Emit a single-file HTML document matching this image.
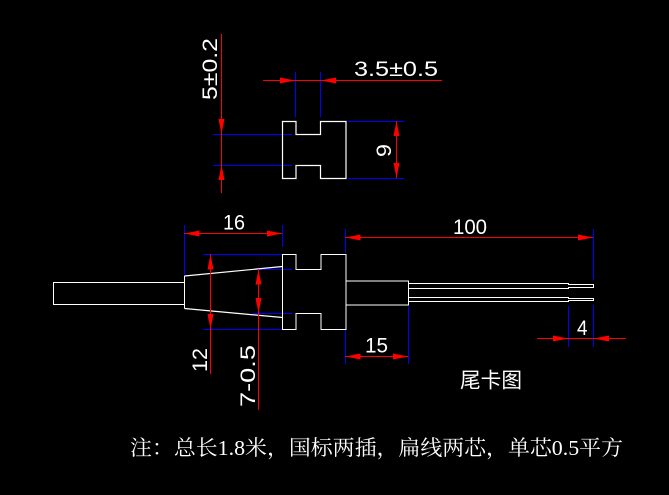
<!DOCTYPE html>
<html><head><meta charset="utf-8"><style>
html,body{margin:0;padding:0;background:#000;}
svg{display:block;}
.t{font-family:"Liberation Sans",sans-serif;font-size:21px;fill:#fff;}
</style></head><body>
<svg width="669" height="495" viewBox="0 0 669 495" xmlns="http://www.w3.org/2000/svg">
<rect width="669" height="495" fill="#000"/>

<!-- ===== TOP VIEW ===== -->
<g fill="none" stroke="#0000ff" stroke-width="1" shape-rendering="crispEdges">
  <line x1="213" y1="134.5" x2="292" y2="134.5"/>
  <line x1="213" y1="165.5" x2="292" y2="165.5"/>
  <line x1="295.5" y1="72" x2="295.5" y2="117"/>
  <line x1="320.5" y1="72" x2="320.5" y2="117"/>
  <line x1="348" y1="121.5" x2="404" y2="121.5"/>
  <line x1="348" y1="178.5" x2="404" y2="178.5"/>
</g>
<polygon points="282.5,121.5 296,121.5 296,134.5 320.5,134.5 320.5,121.5 346,121.5 346,178.5 320.5,178.5 320.5,165.5 296,165.5 296,178.5 282.5,178.5" fill="none" stroke="#fff" stroke-width="1.2"/>
<g stroke="#f00" stroke-width="1" fill="none" shape-rendering="crispEdges">
  <line x1="221.5" y1="34" x2="221.5" y2="193"/>
  <line x1="263" y1="80.5" x2="442" y2="80.5"/>
  <line x1="396.5" y1="121" x2="396.5" y2="178"/>
</g>
<g fill="#f00">
  <polygon points="221.5,134 218.5,119 224.5,119"/>
  <polygon points="221.5,165 218.5,180 224.5,180"/>
  <polygon points="295,80.5 280,77.5 280,83.5"/>
  <polygon points="321,80.5 336,77.5 336,83.5"/>
  <polygon points="396.5,121 393.5,136 399.5,136"/>
  <polygon points="396.5,178 393.5,163 399.5,163"/>
</g>
<text class="t" x="354" y="76" textLength="84" lengthAdjust="spacingAndGlyphs">3.5±0.5</text>
<text class="t" transform="translate(217,100) rotate(-90)" textLength="62" lengthAdjust="spacingAndGlyphs">5±0.2</text>
<text class="t" transform="translate(391,157) rotate(-90)" textLength="13" lengthAdjust="spacingAndGlyphs">9</text>

<!-- ===== SIDE VIEW ===== -->
<g fill="none" stroke="#0000ff" stroke-width="1" shape-rendering="crispEdges">
  <line x1="184.5" y1="225" x2="184.5" y2="276"/>
  <line x1="282.5" y1="225" x2="282.5" y2="247"/>
  <line x1="203" y1="254.5" x2="282" y2="254.5"/>
  <line x1="203" y1="329.5" x2="282" y2="329.5"/>
  <line x1="253" y1="269.5" x2="292" y2="269.5"/>
  <line x1="253" y1="313.5" x2="292" y2="313.5"/>
  <line x1="345.5" y1="229" x2="345.5" y2="253"/>
  <line x1="345.5" y1="330" x2="345.5" y2="364"/>
  <line x1="593.5" y1="229" x2="593.5" y2="280"/>
  <line x1="408.5" y1="306" x2="408.5" y2="364"/>
  <line x1="568.5" y1="306" x2="568.5" y2="347"/>
  <line x1="593.5" y1="305" x2="593.5" y2="347"/>
</g>
<g fill="none" stroke="#fff" stroke-width="1.2">
  <rect x="53.5" y="282.5" width="131" height="22" shape-rendering="crispEdges"/>
  <polyline points="184.5,276 184.5,308.5" shape-rendering="crispEdges"/>
  <line x1="184.5" y1="276" x2="282.5" y2="266.5"/>
  <line x1="184.5" y1="308.5" x2="282.5" y2="317.5"/>
  <polygon shape-rendering="crispEdges" points="282.5,254.5 296,254.5 296,269.5 321,269.5 321,254.5 346,254.5 346,329.5 321,329.5 321,313.5 296,313.5 296,329.5 282.5,329.5"/>
  <rect x="346" y="281" width="62.5" height="24" shape-rendering="crispEdges"/>
  <polygon shape-rendering="crispEdges" points="408.5,283.5 568.5,283.5 568.5,284.5 593.5,284.5 593.5,287.5 568.5,287.5 568.5,288.5 408.5,288.5"/>
  <polygon shape-rendering="crispEdges" points="408.5,297.5 568.5,297.5 568.5,298.5 593.5,298.5 593.5,300.5 568.5,300.5 568.5,301.5 408.5,301.5"/>
</g>
<g stroke="#f00" stroke-width="1" fill="none" shape-rendering="crispEdges">
  <line x1="184" y1="233.5" x2="282" y2="233.5"/>
  <line x1="210.5" y1="254" x2="210.5" y2="374"/>
  <line x1="258.5" y1="269" x2="258.5" y2="410"/>
  <line x1="345" y1="237.5" x2="593" y2="237.5"/>
  <line x1="345" y1="356.5" x2="408" y2="356.5"/>
  <line x1="537" y1="338.5" x2="626" y2="338.5"/>
</g>
<g fill="#f00">
  <polygon points="184.5,233.5 199.5,230.5 199.5,236.5"/>
  <polygon points="282,233.5 267,230.5 267,236.5"/>
  <polygon points="210.5,254.5 207.5,269.5 213.5,269.5"/>
  <polygon points="210.5,329 207.5,314 213.5,314"/>
  <polygon points="258.5,269.5 255.5,284.5 261.5,284.5"/>
  <polygon points="258.5,313 255.5,298 261.5,298"/>
  <polygon points="345.5,237.5 360.5,234.5 360.5,240.5"/>
  <polygon points="593,237.5 578,234.5 578,240.5"/>
  <polygon points="345.5,356.5 360.5,353.5 360.5,359.5"/>
  <polygon points="408,356.5 393,353.5 393,359.5"/>
  <polygon points="568,338.5 553,335.5 553,341.5"/>
  <polygon points="594,338.5 609,335.5 609,341.5"/>
</g>
<text class="t" x="223" y="229.5" textLength="22" lengthAdjust="spacingAndGlyphs">16</text>
<text class="t" x="453" y="234" textLength="34" lengthAdjust="spacingAndGlyphs">100</text>
<text class="t" x="365" y="352.5" textLength="23" lengthAdjust="spacingAndGlyphs">15</text>
<text class="t" x="577" y="335" textLength="10.5" lengthAdjust="spacingAndGlyphs">4</text>
<text class="t" transform="translate(207,372) rotate(-90)" textLength="24" lengthAdjust="spacingAndGlyphs">12</text>
<text class="t" transform="translate(255,407) rotate(-90)" textLength="62" lengthAdjust="spacingAndGlyphs">7-0.5</text>

<text x="460" y="387.5" textLength="62" lengthAdjust="spacingAndGlyphs" style="font-family:'Liberation Sans','Noto Sans CJK SC',sans-serif;font-size:21px;fill:#fff;">尾卡图</text>
<text x="130" y="455" textLength="493" lengthAdjust="spacingAndGlyphs" style="font-family:'Liberation Serif','Noto Serif CJK SC',serif;font-size:21px;fill:#fff;">注：总长1.8米，国标两插，扁线两芯，单芯0.5平方</text>
</svg>
</body></html>
